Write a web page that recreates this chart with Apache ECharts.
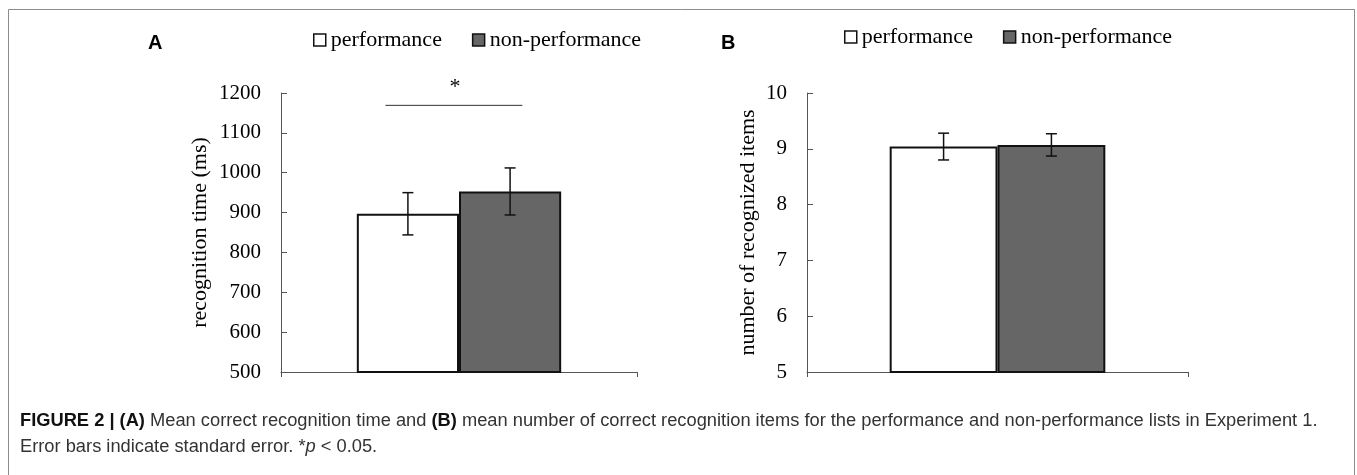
<!DOCTYPE html>
<html>
<head>
<meta charset="utf-8">
<script src="https://cdn.jsdelivr.net/npm/echarts@6/dist/echarts.min.js"></script>
<style>
	html, body { margin: 0; padding: 0; background: #fff; }
	#chartDiv { width: 1357px; height: 475px; }
</style>
</head>
<body>
<div id="chartDiv"></div>
<script>
	// 数据
	var seriesNames = ['performance', 'non-performance'];
	var categories = [''];
	var timeMeans = [897, 953];      // A: recognition time (ms)
	var timeSE = [53, 59];
	var itemMeans = [9.04, 9.07];    // B: number of recognized items
	var itemSE = [0.24, 0.2];
	var sigLineValue = 1169;         // * bracket in A
	var sigStarValue = 1220;

	var serif = 'Liberation Serif, Times New Roman, serif';
	var sans = 'Liberation Sans, Arial, sans-serif';
	var barRatio = [0.287, 0.283];
	var capSize = 18.3;

	function errorBarRender(ratio) {
		return function(params, api) {
			var band = api.size([1, 0])[0];
			var w = band * ratio;
			var side = api.value(3);
			var c = api.coord([api.value(0), api.value(1)]);
			var x = c[0] + side * w / 2;
			var hi = api.coord([0, api.value(1) + api.value(2)])[1];
			var lo = api.coord([0, api.value(1) - api.value(2)])[1];
			var st = { stroke: '#111', lineWidth: 1.5 };
			return {
				type: 'group',
				children: [
					{ type: 'line', shape: { x1: x, y1: hi, x2: x, y2: lo }, style: st },
					{ type: 'line', shape: { x1: x - 5.5, y1: hi, x2: x + 5.5, y2: hi }, style: st },
					{ type: 'line', shape: { x1: x - 5.5, y1: lo, x2: x + 5.5, y2: lo }, style: st }
				]
			};
		};
	}

	function errData(means, se) {
		return means.map(function(m, i) {
			return [0, m, se[i], i == 0 ? -1 : 1];
		});
	}

	function yAxisOpt(grid, min, max, name, gap) {
		return {
			type : 'value',
			gridIndex : grid,
			min : min,
			max : max,
			interval : grid == 0 ? 100 : 1,
			name : name,
			nameLocation : 'middle',
			nameGap : gap,
			nameTextStyle : { fontFamily: serif, fontSize: 22, color: '#000' },
			axisLine : { show: true, lineStyle: { color: '#555', width: 1 } },
			axisTick : { show: true, inside: true, length: 6, lineStyle: { color: '#555' } },
			axisLabel : {
				fontFamily: serif, fontSize: 21, color: '#000', margin: 20,
				formatter: function(v) { return String(v); }
			},
			splitLine : { show: false }
		};
	}

	function xAxisOpt(grid) {
		return {
			type : 'category',
			gridIndex : grid,
			data : categories,
			axisLine : { lineStyle: { color: '#555', width: 1 } },
			axisTick : { show: true, length: 5, lineStyle: { color: '#555' } },
			axisLabel : { show: false }
		};
	}

	function legendOpt(left, top) {
		return {
			data : seriesNames,
			left : left, top : top,
			itemWidth : 12, itemHeight : 12, itemGap : 30,
			selectedMode : false,
			icon : 'rect',
			itemStyle : { borderWidth: 1.5, borderColor: '#111' },
			textStyle : { fontFamily: serif, fontSize: 22, color: '#000' }
		};
	}

	var chart = echarts.init(document.getElementById('chartDiv'));
	var option = {
		animation : false,
		grid : [
			{ left: 281, top: 93, width: 356, bottom: 103 },
			{ left: 807, top: 93, width: 381, bottom: 103 }
		],
		legend : [ legendOpt(308, 24), legendOpt(839, 21) ],
		xAxis : [ xAxisOpt(0), xAxisOpt(1) ],
		yAxis : [
			yAxisOpt(0, 500, 1200, 'recognition time (ms)', 70),
			yAxisOpt(1, 5, 10, 'number of recognized items', 48)
		],
		series : [{
			name : seriesNames[0], type : 'bar', xAxisIndex : 0, yAxisIndex : 0,
			data : [timeMeans[0]], barWidth : '28.7%', barGap : '0%',
			itemStyle : { color: '#fff', borderColor: '#111', borderWidth: 2 }
		}, {
			name : seriesNames[1], type : 'bar', xAxisIndex : 0, yAxisIndex : 0,
			data : [timeMeans[1]], barWidth : '28.7%', barGap : '0%',
			itemStyle : { color: '#666', borderColor: '#111', borderWidth: 2 }
		}, {
			name : seriesNames[0], type : 'bar', xAxisIndex : 1, yAxisIndex : 1,
			data : [itemMeans[0]], barWidth : '28.3%', barGap : '0%',
			itemStyle : { color: '#fff', borderColor: '#111', borderWidth: 2 }
		}, {
			name : seriesNames[1], type : 'bar', xAxisIndex : 1, yAxisIndex : 1,
			data : [itemMeans[1]], barWidth : '28.3%', barGap : '0%',
			itemStyle : { color: '#666', borderColor: '#111', borderWidth: 2 }
		}, {
			type : 'custom', xAxisIndex : 0, yAxisIndex : 0, z : 5,
			renderItem : errorBarRender(barRatio[0]),
			data : errData(timeMeans, timeSE)
		}, {
			type : 'custom', xAxisIndex : 1, yAxisIndex : 1, z : 5,
			renderItem : errorBarRender(barRatio[1]),
			data : errData(itemMeans, itemSE)
		}, {
			// significance bracket
			type : 'custom', xAxisIndex : 0, yAxisIndex : 0, z : 5,
			renderItem : function(params, api) {
				var w = api.size([1, 0])[0] * barRatio[0];
				var c = api.coord([0, api.value(1)]);
				var s = api.coord([0, api.value(2)]);
				return {
					type : 'group',
					children : [
						{ type: 'line', shape: { x1: c[0] - 0.72 * w, y1: c[1], x2: c[0] + 0.62 * w, y2: c[1] },
						  style: { stroke: '#333', lineWidth: 1 } },
						{ type: 'text', x: s[0] - 4, y: s[1] + 2,
						  style: { text: '*', font: '22px ' + serif, fill: '#000', align: 'center', verticalAlign: 'middle' } }
					]
				};
			},
			data : [[0, sigLineValue, sigStarValue]]
		}],
		graphic : [{
			type : 'rect', silent : true,
			shape : { x: 8.5, y: 9.5, width: 1346, height: 480 },
			style : { fill: 'none', stroke: '#8c8c8c', lineWidth: 1 }
		}, {
			type : 'text', x : 148, y : 43,
			style : { text: 'A', font: 'bold 20px ' + sans, fill: '#000', verticalAlign: 'middle' }
		}, {
			type : 'text', x : 721, y : 43,
			style : { text: 'B', font: 'bold 20px ' + sans, fill: '#000', verticalAlign: 'middle' }
		}, {
			type : 'text', x : 20, y : 421,
			style : {
				text : '{b|FIGURE 2 | (A)} Mean correct recognition time and {b|(B)} mean number of correct recognition items for the performance and non-performance lists in Experiment 1.',
				fontFamily : sans, fontSize : capSize, fill : '#333', verticalAlign : 'middle',
				rich : { b: { fontFamily: sans, fontSize: capSize, fontWeight: 'bold', fill: '#111' } }
			}
		}, {
			type : 'text', x : 20, y : 447,
			style : {
				text : 'Error bars indicate standard error. *{i|p} < 0.05.',
				fontFamily : sans, fontSize : capSize, fill : '#333', verticalAlign : 'middle',
				rich : { i: { fontFamily: sans, fontSize: capSize, fontStyle: 'italic', fill: '#333' } }
			}
		}]
	};
	chart.setOption(option);
</script>
</body>
</html>
